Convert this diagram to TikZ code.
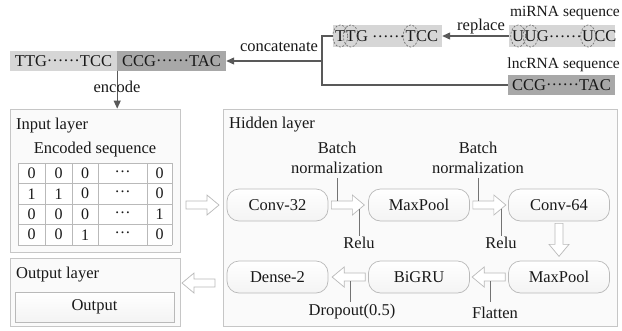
\documentclass[tikz,border=0pt]{standalone}
\usepackage{fontspec}
\setmainfont{Liberation Serif}
\usetikzlibrary{arrows.meta,calc}
% centred ellipsis dots used inside the sequences and the table
\newcommand\seqdots{\raisebox{0.27em}{……}}
\newcommand\celldots{\raisebox{0.25em}{…}}
\begin{document}
\begin{tikzpicture}[x=1pt,y=-1pt,
  txt/.style={font=\fontsize{16.5}{20}\selectfont, text=black!90, inner sep=0pt},
  small/.style={font=\fontsize{15.5}{18}\selectfont, text=black!90, inner sep=0pt},
  seq/.style={font=\fontsize{16.5}{19}\selectfont, text=black!90},
  lightseq/.style={seq, fill=gray!32, minimum height=20pt, inner sep=0pt},
  darkseq/.style={seq, fill=gray!68, minimum height=20pt, inner sep=0pt},
  letter/.style={seq, inner sep=0pt, anchor=base west},
  circled/.style={draw=black!55, dash pattern=on 2pt off 1.5pt, line width=0.7pt},
  conn/.style={draw=black!65, line width=1.1pt},
  tip/.style={-{Triangle[length=8pt,width=7pt]}},
  layerbox/.style={draw=gray!45, fill=gray!4, line width=0.8pt, inner sep=0pt},
  unit/.style={txt, draw=gray!55, line width=0.7pt, rounded corners=12pt,
    minimum width=101pt, minimum height=32pt, top color=white, bottom color=gray!9},
  tick/.style={draw=black!55, line width=0.7pt},
  hollow/.style={draw=gray!55, fill=white, line width=0.7pt},
  gridline/.style={draw=gray!55, line width=0.7pt},
  cell/.style={font=\fontsize{16}{19}\selectfont, text=black!90, inner sep=0pt},
  pics/harrow/.style={code={
    \draw[hollow] (0,-4) -- (21,-4) -- (21,-10) -- (33,0) -- (21,10) -- (21,4) -- (0,4) -- cycle;}},
]
\useasboundingbox (0,0) rectangle (622,330);

% ---------- layer frames ----------
\node[layerbox, minimum width=170pt, minimum height=143pt] (inbox) at (95,180.5) {};
\node[layerbox, minimum width=170pt, minimum height=68pt] (outbox) at (95,292) {};
\node[layerbox, minimum width=394pt, minimum height=217pt] (hidbox) at (420,217.5) {};

\node[txt, anchor=west] (intitle) at (16,126) {Input layer};
\node[txt, anchor=west] (outtitle) at (16,275) {Output layer};
\node[txt, anchor=west] (hidtitle) at (229,125) {Hidden layer};

% ---------- sequences ----------
\node[lightseq, minimum width=107pt] (combA) at (63.5,61) {TTG\seqdots TCC};
\node[darkseq, minimum width=109pt] (combB) at (171.5,61) {CCG\seqdots TAC};
\node[lightseq, minimum width=109pt, minimum height=22pt] (ttg) at (387.5,36) {};
\node[lightseq, minimum width=106pt, minimum height=22pt] (mir) at (562,36) {};
\node[darkseq, minimum width=107pt] (lnc) at (561.5,85) {CCG\seqdots TAC};

% converted sequence, letter by letter
\node[letter] (t1) at (335,41.5) {T};
\node[letter] (t2) at (t1.base east) {T};
\node[letter] (t3) at (t2.base east) {G \seqdots};
\node[letter] (t4) at (t3.base east) {T};
\node[letter] (t5) at (t4.base east) {CC};
% miRNA sequence, letter by letter
\node[letter] (m1) at (512,41.5) {U};
\node[letter] (m2) at (m1.base east) {U};
\node[letter] (m3) at (m2.base east) {G\seqdots};
\node[letter] (m4) at (m3.base east) {U};
\node[letter] (m5) at (m4.base east) {CC};

\foreach \l in {t1,t2,t4}
  \draw[circled] (\l.center |- ttg.center) ellipse [x radius=7.5, y radius=11];
\foreach \l in {m1,m2,m4}
  \draw[circled] (\l.center |- mir.center) ellipse [x radius=7.5, y radius=11];

\node[small, anchor=east] (mirlab) at (620,13) {miRNA sequence};
\node[small, anchor=east] (lnclab) at (620,65) {lncRNA sequence};

% ---------- sequence connectors ----------
\draw[conn, tip] (mir.west) -- (ttg.east);
\node[txt] (replab) at (481,27) {replace};

\coordinate (join) at (322,61);
\draw[conn] (ttg.west) -- (ttg.west -| join) -- (join |- lnc.west) -- (lnc.west);
\draw[conn, tip] (join) -- (combB.east);
\node[txt] (catlab) at (279,47) {concatenate};

\draw[conn, tip] (combA.south east) -- (combA.south east |- inbox.north);
\node[txt] (enclab) at (117,87) {encode};

% ---------- input layer ----------
\node[txt] (enctitle) at (95,150) {Encoded sequence};
\fill[white] (18,163) rectangle (172,245);
\foreach \gx in {18,45,72,98,147,172}
  \draw[gridline] (\gx,163) -- (\gx,245);
\foreach \gy in {163,183.5,204,224.5,245}
  \draw[gridline] (18,\gy) -- (172,\gy);
\foreach \vals [count=\r] in {{0,0,0,\celldots,0},{1,1,0,\celldots,0},{0,0,0,\celldots,1},{0,0,1,\celldots,0}} {
  \foreach \v [count=\c] in \vals {
    \pgfmathsetmacro\cx{{31.5,58.5,85,122.5,159.5}[\c-1]}
    \node[cell] (cell-\r-\c) at (\cx,{163+20.5*\r-10.25}) {\v};
  }
}

% ---------- output layer ----------
\node[txt, draw=gray!55, line width=0.7pt, minimum width=159pt, minimum height=30pt,
  top color=white, bottom color=gray!9] (outunit) at (94.5,307) {Output};

% ---------- hidden layer ----------
\node[unit] (c32) at (277.5,205) {Conv-32};
\node[unit] (mp1) at (419,205) {MaxPool};
\node[unit] (c64) at (559,205) {Conv-64};
\node[unit] (d2)  at (277.5,277) {Dense-2};
\node[unit] (gru) at (419,277) {BiGRU};
\node[unit] (mp2) at (559,277) {MaxPool};

\pic at ($(c32.east)+(3,0)$) {harrow};
\pic at ($(mp1.east)+(3,0)$) {harrow};
\pic[rotate=-90] at ($(c64.south)+(0,2)$) {harrow};
\pic[rotate=180] at ($(mp2.west)+(-3,0)$) {harrow};
\pic[rotate=180] at ($(gru.west)+(-3,0)$) {harrow};

% between the layers
\pic at (186,205) {harrow};
\pic[rotate=180] at (215,283) {harrow};

% annotations on the hollow arrows
\node[txt, align=center] (bn1) at (337,158) {Batch\\normalization};
\draw[tick] ($(c32.east)+(9,-4)$) -- ++(0,-23);
\node[txt] (relu1) at (359,243) {Relu};
\draw[tick] ($(c32.east)+(31,4)$) -- ++(0,27);

\node[txt, align=center] (bn2) at (478,158) {Batch\\normalization};
\draw[tick] ($(mp1.east)+(8,-4)$) -- ++(0,-23);
\node[txt] (relu2) at (501,243) {Relu};
\draw[tick] ($(mp1.east)+(31,4)$) -- ++(0,27);

\node[txt] (drop) at (352,312) {Dropout(0.5)};
\draw[tick] ($(gru.west)+(-18,4)$) -- ++(0,21);
\node[txt] (flat) at (495,313) {Flatten};
\draw[tick] ($(mp2.west)+(-18,4)$) -- ++(0,21);
\end{tikzpicture}
\end{document}
